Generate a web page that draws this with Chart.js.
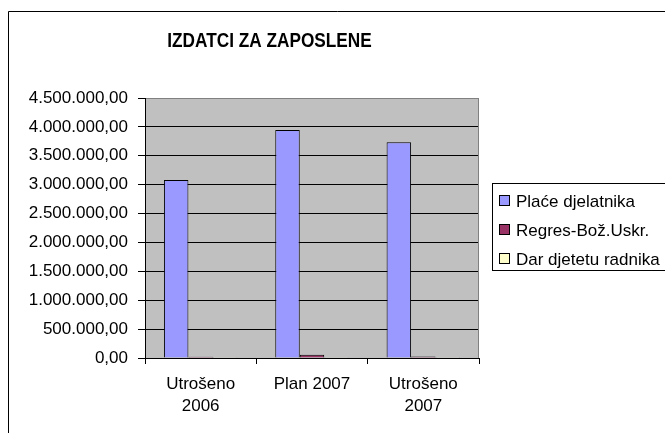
<!DOCTYPE html>
<html>
<head>
<meta charset="utf-8">
<title>Izdatci za zaposlene</title>
<script src="https://cdn.jsdelivr.net/npm/chart.js@4.4.1/dist/chart.umd.min.js"></script>
<style>
    html, body { margin: 0; padding: 0; background: #fff; overflow: hidden; }
    #wrap { position: relative; width: 665px; height: 433px; }
</style>
</head>
<body>
<div id="wrap"><canvas id="chart"></canvas></div>
<script>
// chart data
const chartTitle = 'IZDATCI ZA ZAPOSLENE';
const categories = [['Utrošeno', '2006'], 'Plan 2007', ['Utrošeno', '2007']];
const seriesNames = ['Plaće djelatnika', 'Regres-Bož.Uskr.', 'Dar djetetu radnika'];
const placeValues = [3080000, 3945000, 3735000];
const regresValues = [22000, 55000, 25000];
const darValues = [3000, 4000, 3000];
const yMin = 0;
const yMax = 4500000;
const yStep = 500000;

const seriesColors = ['#9999FF', '#993366', '#FFFFCC'];
const FONT = 'Arial, "Liberation Sans", sans-serif';

function formatHr(value) {
    const whole = Math.round(value).toString().replace(/\B(?=(\d{3})+(?!\d))/g, '.');
    return whole + ',00';
}

// grey plot area, frame, title and boxed legend (Excel look)
const excelLook = {
    id: 'excelLook',
    beforeDraw(chart) {
        const { ctx, chartArea: a } = chart;
        ctx.save();
        ctx.fillStyle = '#C0C0C0';
        ctx.fillRect(a.left, a.top, a.right - a.left, a.bottom - a.top);
        ctx.restore();
    },
    afterDraw(chart) {
        const { ctx, chartArea: a } = chart;
        ctx.save();
        // right edge of plot area
        ctx.strokeStyle = '#808080';
        ctx.lineWidth = 1;
        ctx.beginPath();
        ctx.moveTo(Math.round(a.right) - 0.5, a.top);
        ctx.lineTo(Math.round(a.right) - 0.5, a.bottom);
        ctx.stroke();

        // outer frame
        ctx.strokeStyle = '#000';
        ctx.beginPath();
        ctx.moveTo(8.5, chart.height + 2);
        ctx.lineTo(8.5, 11.5);
        ctx.lineTo(chart.width + 2, 11.5);
        ctx.stroke();

        // title (tall, slightly condensed like the original)
        ctx.save();
        ctx.fillStyle = '#000';
        ctx.font = 'bold 21px ' + FONT;
        ctx.textAlign = 'center';
        ctx.textBaseline = 'alphabetic';
        ctx.translate(269.5, 47);
        ctx.scale(0.82, 1);
        ctx.fillText(chartTitle, 0, 0);
        ctx.restore();

        // legend
        ctx.strokeStyle = '#000';
        ctx.strokeRect(492.5, 183.5, 230, 87);
        ctx.font = '17px ' + FONT;
        ctx.textAlign = 'left';
        ctx.textBaseline = 'middle';
        chart.data.datasets.forEach(function(ds, i) {
            const y = 201 + i * 29;
            ctx.fillStyle = ds.backgroundColor;
            ctx.fillRect(499.5, y - 5.5, 10, 10);
            ctx.strokeRect(499.5, y - 5.5, 10, 10);
            ctx.fillStyle = '#000';
            ctx.fillText(ds.label, 516, y + 1);
        });
        ctx.restore();
    }
};

const datasetValues = [placeValues, regresValues, darValues];

new Chart(document.getElementById('chart'), {
    type: 'bar',
    data: {
        labels: categories,
        datasets: seriesNames.map(function(name, i) {
            return {
                label: name,
                data: datasetValues[i],
                backgroundColor: seriesColors[i],
                borderColor: '#000',
                borderWidth: 1,
                barPercentage: 1,
                categoryPercentage: 0.66
            };
        })
    },
    options: {
        responsive: true,
        maintainAspectRatio: false,
        animation: false,
        layout: {
            padding: { left: 0, top: 98, right: 186, bottom: 0 }
        },
        plugins: {
            legend: { display: false },
            title: { display: false },
            tooltip: { enabled: false }
        },
        scales: {
            x: {
                offset: true,
                grid: {
                    offset: true,
                    drawOnChartArea: false,
                    color: '#000',
                    tickLength: 6
                },
                border: { color: '#000', width: 1 },
                ticks: {
                    color: '#000',
                    padding: 9,
                    maxRotation: 0,
                    font: { family: FONT, size: 17, lineHeight: 1.32 }
                },
                afterFit: function(scale) { scale.height = 75; }
            },
            y: {
                min: yMin,
                max: yMax,
                grid: {
                    color: function(c) { return c.tick && c.tick.value === yMax ? '#808080' : '#000'; },
                    tickColor: '#000',
                    tickLength: 7
                },
                border: { color: '#000', width: 1 },
                ticks: {
                    stepSize: yStep,
                    color: '#000',
                    padding: 10,
                    font: { family: FONT, size: 17 },
                    callback: function(v) { return formatHr(v); }
                },
                afterFit: function(scale) { scale.width = 145; }
            }
        }
    },
    plugins: [excelLook]
});
</script>
</body>
</html>
